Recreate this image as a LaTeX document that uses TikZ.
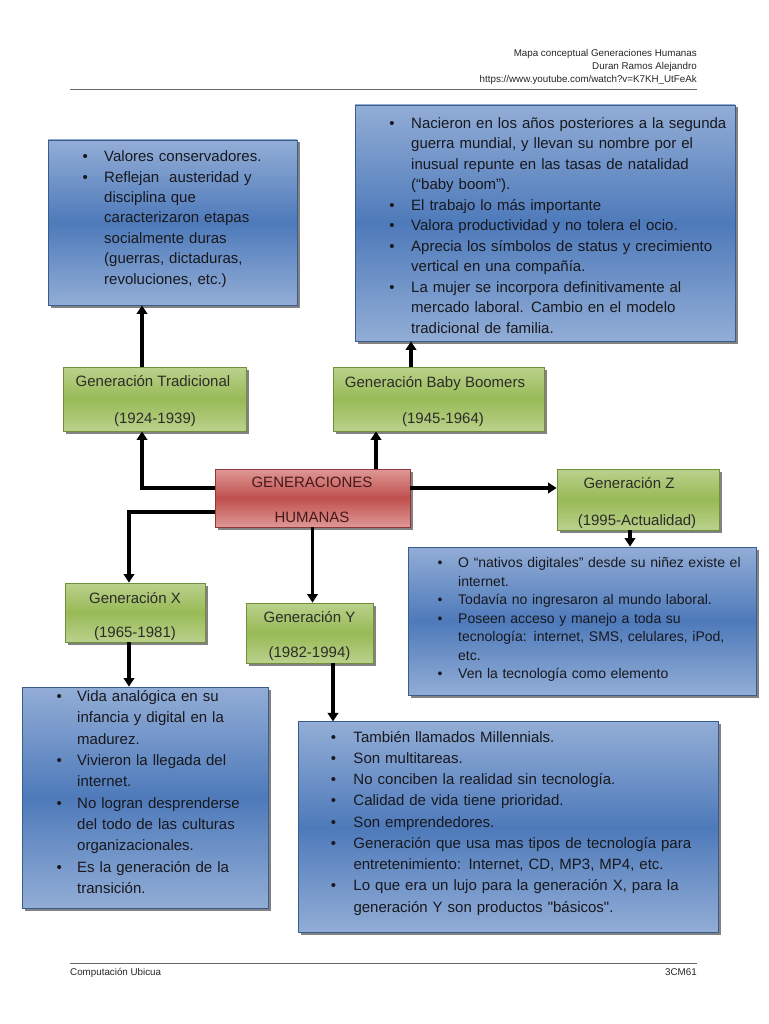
\documentclass[tikz,border=0pt]{standalone}
\usepackage{fontspec}
\setmainfont{Liberation Sans}
\usetikzlibrary{arrows.meta,shadows}
\definecolor{bluelt}{RGB}{146,173,214}
\definecolor{bluedk}{RGB}{78,122,186}
\definecolor{bluebd}{RGB}{58,92,140}
\definecolor{greenlt}{RGB}{186,209,140}
\definecolor{greendk}{RGB}{152,186,86}
\definecolor{greenbd}{RGB}{116,143,60}
\definecolor{redlt}{RGB}{222,152,150}
\definecolor{reddk}{RGB}{192,80,77}
\definecolor{redbd}{RGB}{140,56,54}
\definecolor{txt}{RGB}{24,24,30}
\definecolor{lbltxt}{RGB}{45,45,40}
\definecolor{redtxt}{RGB}{70,25,25}
\newlength\bxl
\newlength\bll
\newcommand\bi[1]{\par\noindent\hangindent=\bll\hangafter=1\strut\makebox[\bll][l]{\hspace*{\bxl}\textbullet}#1\par}
\begin{document}
\begin{tikzpicture}[x=1pt,y=-1pt,
  arr/.style={line width=3.2pt,-{Triangle[width=10.5pt,length=8.5pt]}},
  shbox/.style={inner sep=0pt,line width=0.8pt,drop shadow={shadow xshift=2.5pt,shadow yshift=-2.5pt,fill=black!65,opacity=0.75}},
  bluebox/.style={shbox,draw=bluebd,top color=bluelt,bottom color=bluelt,middle color=bluedk},
  greenbox/.style={shbox,draw=greenbd,top color=greenlt,bottom color=greenlt,middle color=greendk},
  redbox/.style={shbox,draw=redbd,top color=redlt,bottom color=redlt,middle color=reddk},
  listtext/.style={anchor=north west,inner sep=0pt,text width=440pt,text=txt},
  lbl/.style={anchor=base,inner sep=0pt,font=\fontsize{15}{18}\selectfont,text=lbltxt},
  hdr/.style={inner sep=0pt,font=\fontsize{9.8}{12}\selectfont,text=black!85},
  rulestyle/.style={line width=0.9pt,draw=black!60}
]
\useasboundingbox (0,0) rectangle (768,1024);
\fill[white] (0,0) rectangle (768,1024);

% header / footer
\node[hdr,anchor=base east] (h1) at (697,56.7) {Mapa conceptual Generaciones Humanas};
\node[hdr,anchor=base east] (h2) at (697,69.5) {Duran Ramos Alejandro};
\node[hdr,anchor=base east] (h3) at (697,82.5) {https://www.youtube.com/watch?v=K7KH\_UtFeAk};
\draw[rulestyle] (70,89.3) -- (697,89.3);
\draw[rulestyle] (70,963.5) -- (697,963.5);
\node[hdr,anchor=base west] (f1) at (70,975.5) {Computación Ubicua};
\node[hdr,anchor=base east] (f2) at (697,975.5) {3CM61};

% blue boxes
\node[bluebox,minimum width=249pt,minimum height=165pt] (tlbox) at (172.5,222.5) {};
\node[bluebox,minimum width=380pt,minimum height=236pt] (trbox) at (545,223) {};
\node[bluebox,minimum width=348pt,minimum height=148pt] (zbox) at (582,621) {};
\node[bluebox,minimum width=246pt,minimum height=221pt] (blbox) at (145,797.5) {};
\node[bluebox,minimum width=420pt,minimum height=211pt] (brbox) at (508,827.3) {};

% green / red boxes
\node[greenbox,minimum width=183pt,minimum height=64pt] (gtrad) at (154.5,399) {};
\node[greenbox,minimum width=211pt,minimum height=64pt] (gbb) at (438.5,399) {};
\node[redbox,minimum width=195pt,minimum height=58pt] (red) at (312.5,498) {};
\node[greenbox,minimum width=162pt,minimum height=61pt] (genz) at (638,499.5) {};
\node[greenbox,minimum width=140pt,minimum height=59pt] (genx) at (135,612.5) {};
\node[greenbox,minimum width=127pt,minimum height=60pt] (geny) at (309.5,633) {};

% labels
\node[lbl] (gtradA) at (153,386.5) {Generación Tradicional};
\node[lbl] (gtradB) at (155,423) {(1924-1939)};
\node[lbl] (gbbA) at (435,387) {Generación Baby Boomers};
\node[lbl] (gbbB) at (443,423) {(1945-1964)};
\begin{scope}
\clip ([xshift=0.4pt,yshift=0.4pt]red.south west) rectangle (red.north east);
\node[lbl,text=redtxt] (redA) at (312,487.7) {GENERACIONES};
\node[lbl,text=redtxt] (redB) at (312,522.5) {HUMANAS};
\end{scope}
\node[lbl] (genzA) at (629,488) {Generación Z};
\node[lbl] (genzB) at (637,525) {(1995-Actualidad)};
\node[lbl] (genxA) at (135,603) {Generación X};
\begin{scope}
\clip ([yshift=0.4pt]genx.south west) rectangle (genx.north east);
\node[lbl] (genxB) at (135,637) {(1965-1981)};
\end{scope}
\node[lbl] (genyA) at (309.5,622) {Generación Y};
\node[lbl] (genyB) at (309.5,657) {(1982-1994)};

% list texts
\node[listtext,font=\fontsize{15}{20.4}\selectfont] (tltext) at (48,141.2) {%
\setlength\bxl{34.4pt}\setlength\bll{56pt}%
\bi{Valores conservadores.}
\bi{Reflejan~ austeridad y\newline disciplina que\newline caracterizaron etapas\newline socialmente duras\newline (guerras, dictaduras,\newline revoluciones, etc.)}};

\node[listtext,font=\fontsize{15}{20.5}\selectfont] (trtext) at (355,107.5) {%
\setlength\bxl{34.1pt}\setlength\bll{56pt}%
\bi{Nacieron en los años posteriores a la segunda\newline guerra mundial, y llevan su nombre por el\newline inusual repunte en las tasas de natalidad\newline (“baby boom”).}
\bi{El trabajo lo más importante}
\bi{Valora productividad y no tolera el ocio.}
\bi{Aprecia los símbolos de status y crecimiento\newline vertical en una compañía.}
\bi{La mujer se incorpora definitivamente al\newline mercado laboral. Cambio en el modelo\newline tradicional de familia.}};

\node[listtext,font=\fontsize{14}{18.5}\selectfont] (ztext) at (408,548.8) {%
\setlength\bxl{29.5pt}\setlength\bll{50pt}%
\bi{O “nativos digitales” desde su niñez existe el\newline internet.}
\bi{Todavía no ingresaron al mundo laboral.}
\bi{Poseen acceso y manejo a toda su\newline tecnología: internet, SMS, celulares, iPod,\newline etc.}
\bi{Ven la tecnología como elemento}};

\node[listtext,font=\fontsize{15}{21.3}\selectfont] (bltext) at (22,680.1) {%
\setlength\bxl{34.4pt}\setlength\bll{55pt}%
\bi{Vida analógica en su\newline infancia y digital en la\newline madurez.}
\bi{Vivieron la llegada del\newline internet.}
\bi{No logran desprenderse\newline del todo de las culturas\newline organizacionales.}
\bi{Es la generación de la\newline transición.}};

\node[listtext,font=\fontsize{15}{21.25}\selectfont] (brtext) at (298,720.6) {%
\setlength\bxl{32.7pt}\setlength\bll{55.3pt}%
\bi{También llamados Millennials.}
\bi{Son multitareas.}
\bi{No conciben la realidad sin tecnología.}
\bi{Calidad de vida tiene prioridad.}
\bi{Son emprendedores.}
\bi{Generación que usa mas tipos de tecnología para\newline entretenimiento: Internet, CD, MP3, MP4, etc.}
\bi{Lo que era un lujo para la generación X, para la\newline generación Y son productos \textquotedbl básicos\textquotedbl.}};

% connectors
\draw[arr] ([yshift=10pt]red.west) -| ([xshift=-12.5pt]gtrad.south);
\draw[arr] ([xshift=-12.5pt]gtrad.north) -- ([xshift=-12.5pt]gtrad.north |- tlbox.south);
\draw[arr] ([xshift=63.5pt]red.north) -- ([xshift=63.5pt]red.north |- gbb.south);
\draw[arr] ([xshift=-27.5pt]gbb.north) -- ([xshift=-27.5pt]gbb.north |- trbox.south);
\draw[arr] ([yshift=10pt]red.east) -- ([yshift=10pt]red.east -| genz.west);
\draw[arr] ([xshift=-8pt]genz.south) -- ([xshift=-8pt]genz.south |- zbox.north);
\draw[arr] ([yshift=-14pt]red.west) -| ([xshift=-6pt]genx.north);
\draw[arr] ([xshift=-6pt]genx.south) -- ([xshift=-6pt]genx.south |- blbox.north);
\draw[arr] (red.south) -- (red.south |- geny.north);
\draw[arr] ([xshift=23.5pt]geny.south) -- ([xshift=23.5pt]geny.south |- brbox.north);
\end{tikzpicture}
\end{document}
